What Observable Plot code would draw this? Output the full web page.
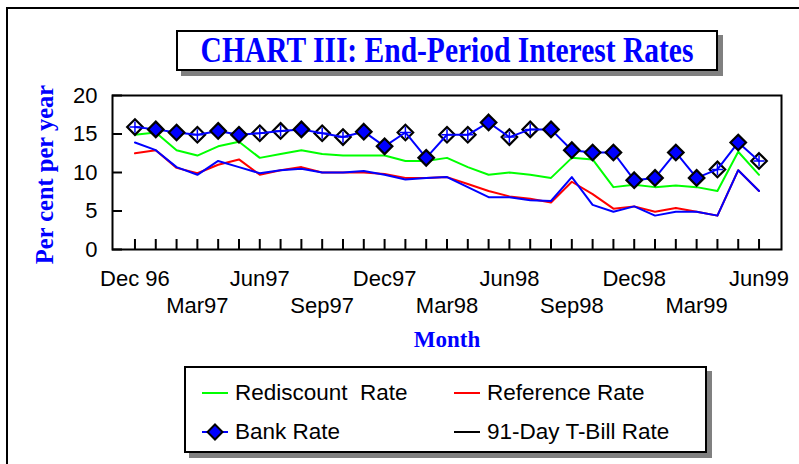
<!DOCTYPE html>
<html>
<head>
<meta charset="utf-8">
<script src="https://cdn.jsdelivr.net/npm/d3@7"></script>
<script src="https://cdn.jsdelivr.net/npm/@observablehq/plot@0.6"></script>
<style>
  html, body { margin: 0; padding: 0; background: #fff; }
  #wrap { position: relative; width: 799px; height: 464px; overflow: hidden; font-family: "Liberation Sans", Arial, sans-serif; }
  #outer { position: absolute; left: 6px; top: 7px; width: 820px; height: 480px; border-left: 2px solid #000; border-top: 2px solid #000; }
  #chart { position: absolute; left: 0; top: 0; }
  #title { position: absolute; left: 176px; top: 30px; width: 542px; height: 41px; box-sizing: border-box;
           border: 2px solid #000; background: #fff; box-shadow: 5px 5px 0 #808080;
           font-family: "Liberation Serif", "Times New Roman", serif; font-weight: bold; color: #0000ff;
           font-size: 29.5px; text-align: center; line-height: 37px; white-space: nowrap; }
  #title span { display: inline-block; transform: scaleY(1.18); }
  #legend { position: absolute; left: 184px; top: 366px; width: 523px; height: 87px; box-sizing: border-box;
            border: 2px solid #000; background: #fff; box-shadow: 5px 5px 0 #808080; }
  .item { position: absolute; height: 30px; display: flex; align-items: center; font-size: 22.5px; color: #000; white-space: pre; }
  .item svg { margin-right: 7px; }
</style>
</head>
<body>
<div id="wrap">
  <div id="outer"></div>
  <div id="chart"></div>
  <div id="title"><span></span></div>
  <div id="legend"></div>
</div>
<script>
// ---- data ----
const months = ["Dec 96","Jan97","Feb97","Mar97","Apr97","May97","Jun97","Jul97","Aug97","Sep97","Oct97","Nov97",
                "Dec97","Jan98","Feb98","Mar98","Apr98","May98","Jun98","Jul98","Aug98","Sep98","Oct98","Nov98",
                "Dec98","Jan99","Feb99","Mar99","Apr99","May99","Jun99"];
const rediscount = [14.9,15.2,12.9,12.2,13.4,14.0,11.9,12.4,12.9,12.4,12.2,12.2,12.2,11.5,11.5,11.9,10.7,9.7,10.0,9.7,9.3,11.9,11.7,8.1,8.4,8.1,8.3,8.1,7.6,12.7,9.7];
const reference  = [12.5,12.9,10.6,9.9,11.0,11.7,9.7,10.3,10.7,10.0,10.0,10.0,9.8,9.3,9.3,9.4,8.5,7.6,6.9,6.6,6.1,8.8,7.2,5.3,5.6,4.9,5.4,4.9,4.4,10.3,7.6];
const bank       = [15.9,15.6,15.2,14.9,15.4,14.9,15.1,15.4,15.6,15.1,14.6,15.3,13.4,15.2,11.9,14.9,14.9,16.5,14.6,15.6,15.6,12.9,12.6,12.6,9.0,9.3,12.6,9.3,10.4,13.9,11.5];
const tbill      = [13.9,12.9,10.7,9.7,11.5,10.7,9.9,10.3,10.5,10.0,10.0,10.2,9.7,9.1,9.3,9.4,8.1,6.8,6.8,6.4,6.3,9.4,5.8,4.9,5.6,4.4,4.9,4.9,4.4,10.3,7.6];
const bankOpenMarkers = [0,3,6,7,9,10,13,15,16,18,19,28,30];
const yTicks = [0,5,10,15,20];
const labelRow1 = ["Dec 96","Jun97","Dec97","Jun98","Dec98","Jun99"];
const labelRow2 = ["Mar97","Sep97","Mar98","Sep98","Mar99"];
const titleText = "CHART III: End-Period Interest Rates";
const yLabel = "Per cent per year";
const xLabel = "Month";
const seriesNames = ["Rediscount  Rate","Reference Rate","Bank Rate","91-Day T-Bill Rate"];

// ---- build ----
const rows = months.map((m, i) => ({i, month: m, rediscount: rediscount[i], reference: reference[i],
  bank: bank[i], tbill: tbill[i], open: bankOpenMarkers.includes(i)}));
const idx = rows.map(d => d.i);
const row1 = labelRow1.map(l => months.indexOf(l));
const row2 = labelRow2.map(l => months.indexOf(l));

const plusSym = { draw(context, size) {
  const r = Math.sqrt(size / Math.PI) * 0.8;
  context.moveTo(-r, 0); context.lineTo(r, 0);
  context.moveTo(0, -r); context.lineTo(0, r);
}};

const BLUE = "#0000ff", GREEN = "#00ff00", RED = "#ff0000";
const serif = "Liberation Serif, Times New Roman, serif";

const chart = Plot.plot({
  width: 799, height: 464,
  marginLeft: 112, marginRight: 18, marginTop: 95, marginBottom: 215,
  style: { fontFamily: "Liberation Sans, Arial, sans-serif", fontSize: "22px", color: "#000", background: "transparent", overflow: "visible" },
  x: { domain: [-1.08, 31.08] },
  y: { domain: [0, 20] },
  marks: [
    Plot.axisY({ ticks: yTicks, tickSize: 10, dx: 10, fill: "none", stroke: "#000", strokeWidth: 2, label: null }),
    Plot.axisY({ ticks: yTicks, tickSize: 0, tickPadding: 15, stroke: "none", fill: "#000", fontSize: 22, label: null }),
    Plot.axisX({ ticks: idx, tickSize: 10, dy: -10, fill: "none", stroke: "#000", strokeWidth: 2, label: null }),
    Plot.axisX({ ticks: row1, tickSize: 0, tickPadding: 21, stroke: "none", fill: "#000", fontSize: 22, tickFormat: i => months[i], label: null }),
    Plot.axisX({ ticks: row2, tickSize: 0, tickPadding: 48, stroke: "none", fill: "#000", fontSize: 22, tickFormat: i => months[i], label: null }),
    Plot.line(rows, { x: "i", y: "rediscount", stroke: GREEN, strokeWidth: 2 }),
    Plot.line(rows, { x: "i", y: "reference", stroke: RED, strokeWidth: 2 }),
    Plot.line(rows, { x: "i", y: "tbill", stroke: BLUE, strokeWidth: 2 }),
    Plot.dot(rows.filter(d => d.open), { x: "i", y: "bank", symbol: "diamond2", r: 7, fill: "#fff", stroke: "#000", strokeWidth: 2.2 }),
    Plot.line(rows, { x: "i", y: "bank", stroke: BLUE, strokeWidth: 2 }),
    Plot.dot(rows.filter(d => !d.open), { x: "i", y: "bank", symbol: "diamond2", r: 7, fill: BLUE, stroke: "#000", strokeWidth: 2.2 }),
    Plot.dot(rows.filter(d => d.open), { x: "i", y: "bank", symbol: plusSym, r: 7, fill: "none", stroke: BLUE, strokeWidth: 1.5 }),
    Plot.frame({ stroke: "#000", strokeWidth: 2 }),
    Plot.text([yLabel], { text: d => d, frameAnchor: "left", textAnchor: "middle", dx: -67, dy: 2, rotate: -90, fontFamily: serif, fontWeight: "bold", fontSize: 24.5, fill: BLUE }),
    Plot.text([xLabel], { text: d => d, frameAnchor: "bottom", dy: 97, fontFamily: serif, fontWeight: "bold", fontSize: 23, fill: BLUE })
  ]
});
document.getElementById("chart").appendChild(chart);
document.querySelector("#title span").textContent = titleText;

// legend
const legend = document.getElementById("legend");
const swatch = (color, marker) => {
  const s = `<svg width="26" height="20" viewBox="0 0 26 20"><line x1="0" y1="10" x2="26" y2="10" stroke="${color}" stroke-width="2"/>` +
    (marker ? `<path d="M13,2.5L20.5,10L13,17.5L5.5,10Z" fill="${BLUE}" stroke="#000" stroke-width="2"/>` : "") + `</svg>`;
  return s;
};
const items = [
  { name: seriesNames[0], color: GREEN, marker: false, left: 16, top: 10 },
  { name: seriesNames[1], color: RED, marker: false, left: 268, top: 10 },
  { name: seriesNames[2], color: BLUE, marker: true, left: 16, top: 49 },
  { name: seriesNames[3], color: "#000", marker: false, left: 268, top: 49 }
];
for (const it of items) {
  const d = document.createElement("div");
  d.className = "item";
  d.style.left = it.left + "px";
  d.style.top = it.top + "px";
  d.innerHTML = swatch(it.color, it.marker) + `<span></span>`;
  d.querySelector("span").textContent = it.name;
  legend.appendChild(d);
}
</script>
</body>
</html>
